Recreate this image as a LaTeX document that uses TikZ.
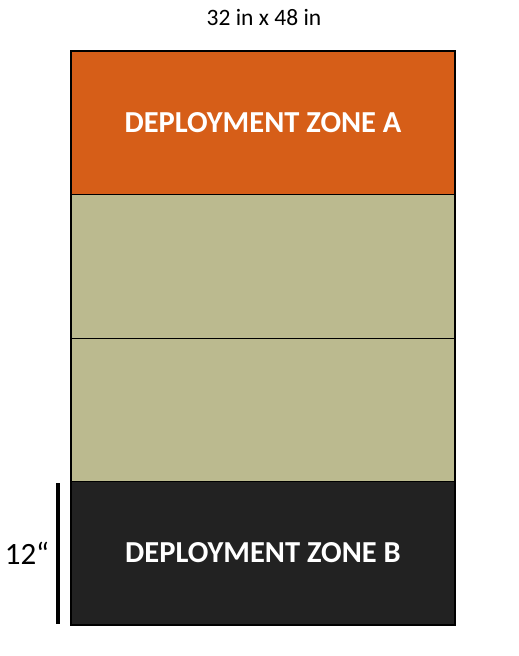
\documentclass[tikz,border=0pt]{standalone}
\usepackage{fontspec}
\setmainfont{Carlito}
\usetikzlibrary{positioning}

\definecolor{zoneorange}{HTML}{D65E18}
\definecolor{zonekhaki}{HTML}{BBBA8F}
\definecolor{zonedark}{HTML}{222222}

\begin{document}
\begin{tikzpicture}[
  x=1pt,y=-1pt,
  zone/.style={draw=black,line width=1pt,minimum width=383pt,minimum height=143pt,inner sep=0pt,anchor=north west,text=white,font=\fontsize{30.5}{33}\selectfont\bfseries},
  dimbar/.style={line width=3.5pt}
]
  \useasboundingbox (0,0) rectangle (519,656);
  % board, top to bottom
  \node[zone,fill=zoneorange] (zoneA) at (71,51) {DEPLOYMENT ZONE A};
  \node[zone,fill=zonekhaki,minimum height=144pt] (midA) at (71,194) {};
  \node[zone,fill=zonekhaki] (midB) at (71,338) {};
  \node[zone,fill=zonedark] (zoneB) at (71,481) {DEPLOYMENT ZONE B};
  \draw[line width=1.5pt] (zoneA.north west) rectangle (zoneB.south east);

  \node[font=\fontsize{23.5}{26}\selectfont] (size) at (264,18) {32 in x 48 in};

  % 12 inch marker
  \coordinate (barTop) at (58,483);
  \coordinate (barBot) at (58,624);
  \draw[dimbar] (barTop) -- (barBot);
  \node[font=\fontsize{31}{34}\selectfont] (depthlbl) at (27,553) {12“};
\end{tikzpicture}
\end{document}
